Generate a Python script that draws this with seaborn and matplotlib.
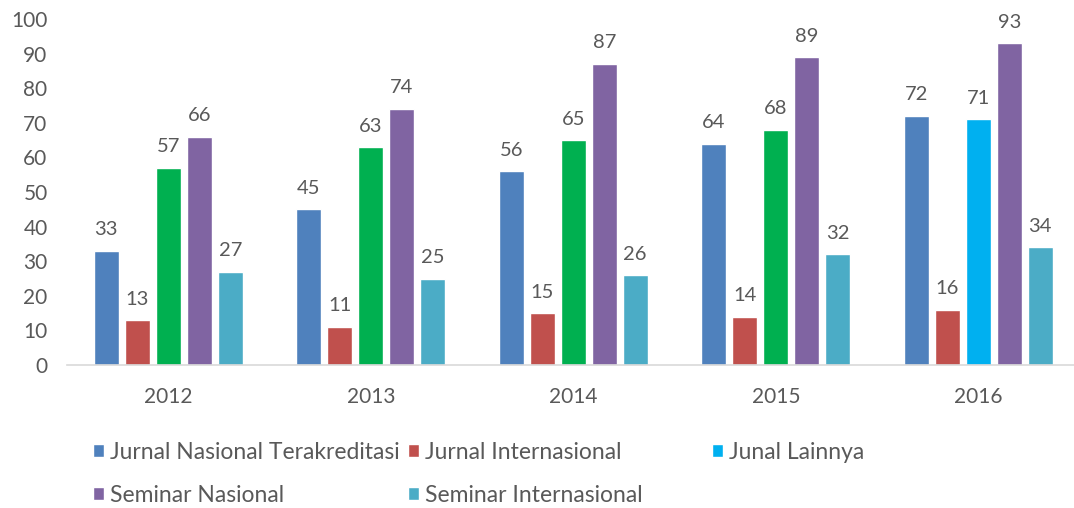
import pandas as pd
import numpy as np
import seaborn as sns
import matplotlib.pyplot as plt
from matplotlib.patches import Patch

years = ['2012', '2013', '2014', '2015', '2016']
series = ['Jurnal Nasional Terakreditasi', 'Jurnal Internasional', 'Junal Lainnya',
          'Seminar Nasional', 'Seminar Internasional']
jurnal_nasional = [33, 45, 56, 64, 72]
jurnal_internasional = [13, 11, 15, 14, 16]
junal_lainnya = [57, 63, 65, 68, 71]
seminar_nasional = [66, 74, 87, 89, 93]
seminar_internasional = [27, 25, 26, 32, 34]

colors = ['#4F81BD', '#C0504D', '#00B0F0', '#8064A2', '#4BACC6']
# the third series is drawn green for 2012-2015 in the original
lainnya_colors = ['#00B050', '#00B050', '#00B050', '#00B050', '#00B0F0']

text_col = '#595959'

df = pd.DataFrame({
    'year': years * 5,
    'sys': np.repeat(series, 5),
    'value': jurnal_nasional + jurnal_internasional + junal_lainnya
             + seminar_nasional + seminar_internasional,
})

sns.set_style('white')
plt.rcParams['font.family'] = ['Lato', 'DejaVu Sans']

fig = plt.figure(figsize=(10.74, 5.08), dpi=100)
ax = fig.add_axes([67 / 1074, 143 / 508, 1012.5 / 1074, 346 / 508])

sns.barplot(data=df, x='year', y='value', hue='sys', hue_order=series,
            palette=colors, width=0.765, gap=0.19, ax=ax, legend=False,
            saturation=1)

for bar, c in zip(ax.containers[2], lainnya_colors):
    bar.set_facecolor(c)

for cont in ax.containers:
    ax.bar_label(cont, padding=9, fontsize=14.5, color=text_col)

ax.set_ylim(0, 100)
ax.set_xlim(-0.5, 4.5)
ax.set_yticks(range(0, 101, 10))
ax.set_xlabel('')
ax.set_ylabel('')
for s in ['top', 'right', 'left']:
    ax.spines[s].set_visible(False)
ax.spines['bottom'].set_color('#D9D9D9')
ax.spines['bottom'].set_linewidth(1.2)
ax.tick_params(axis='y', length=0, pad=14, labelsize=15, labelcolor=text_col)
ax.tick_params(axis='x', length=0, pad=16, labelsize=15, labelcolor=text_col)

# legend laid out in three columns like the original
cols = [(93, [0, 3]), (408, [1, 4]), (712, [2])]
for x0, idx in cols:
    handles = [Patch(facecolor=colors[i], label=series[i]) for i in idx]
    leg = fig.legend(handles=handles, loc='upper left',
                     bbox_to_anchor=(x0 / 1074, 1 - 442 / 508),
                     frameon=False, fontsize=16.5, handlelength=0.5,
                     handleheight=0.5, handletextpad=0.25, labelspacing=0.95,
                     borderpad=0, borderaxespad=0)
    for t in leg.get_texts():
        t.set_color(text_col)

fig.savefig('out.png', dpi=100)
